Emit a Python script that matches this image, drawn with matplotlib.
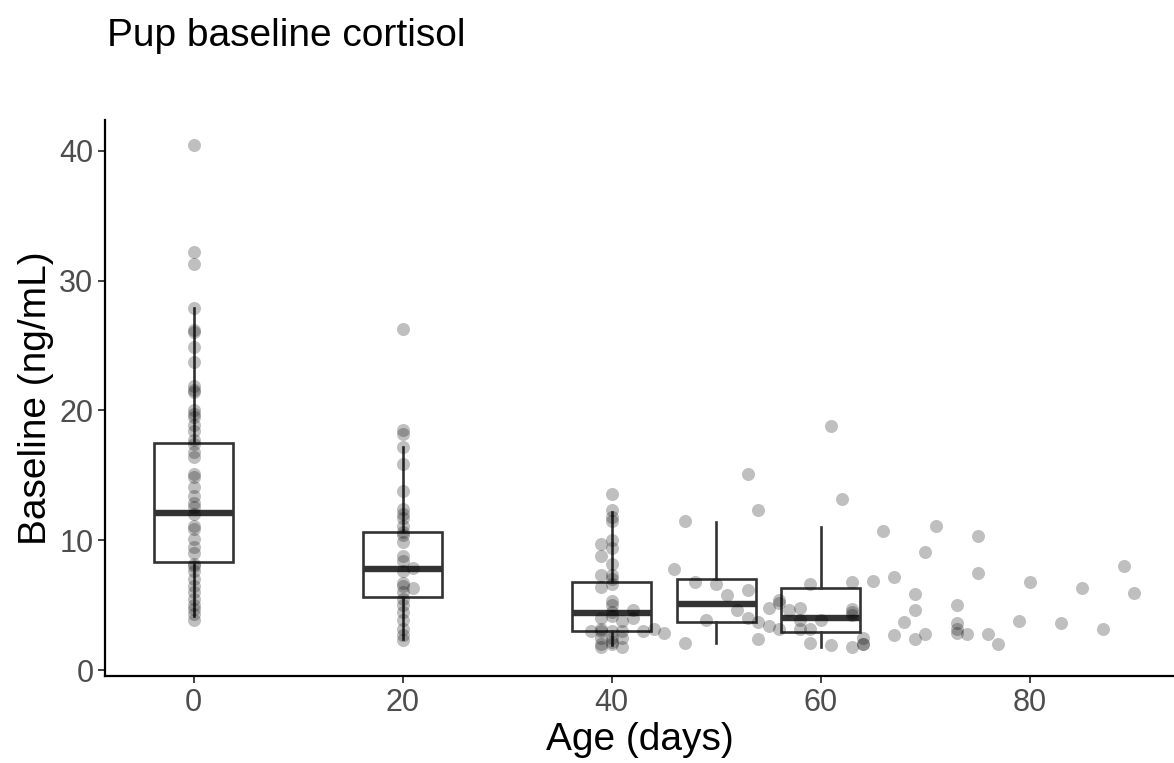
import matplotlib
matplotlib.use("Agg")
import matplotlib.pyplot as plt

plt.rcParams['font.family'] = ['Liberation Sans', 'DejaVu Sans']

# points: age (days) and baseline cortisol (ng/mL)
age0 = [0] * 43
base0 = [40.4, 32.2, 31.3, 27.9, 26.2, 26.0, 24.9, 23.7, 21.9, 21.6, 21.4,
         20.0, 19.7, 19.5, 18.9, 18.4, 17.7, 17.4, 16.8, 16.4, 15.1, 14.9,
         14.1, 13.4, 12.9, 12.6, 12.0, 11.1, 10.9, 10.1, 9.5, 9.0, 8.2,
         8.0, 7.6, 7.0, 6.5, 6.0, 5.5, 5.0, 4.7, 4.3, 3.9]

age20 = [20] * 26 + [21, 21]
base20 = [26.3, 18.5, 18.2, 17.2, 15.9, 13.8, 12.4, 12.0, 11.7, 11.1, 10.6,
          10.4, 9.9, 8.8, 8.4, 7.6, 6.7, 6.5, 6.0, 5.5, 5.0, 4.5, 3.9, 3.2,
          2.7, 2.3, 7.9, 6.3]

age40 = [40, 40, 40, 40, 39, 40, 40, 39, 40, 39, 40, 40, 39, 40, 40, 40, 40,
         40, 42, 42, 39, 38, 39, 39, 40, 41, 41, 43, 44, 45, 39, 40, 40, 41,
         39, 39, 40, 41]
base40 = [13.6, 12.3, 11.8, 11.5, 9.7, 10.0, 9.4, 8.8, 8.2, 7.3, 7.3, 7.0,
          6.4, 6.6, 5.3, 5.0, 4.5, 4.2, 4.6, 4.0, 4.0, 3.0, 3.0, 3.2, 3.0,
          3.0, 3.8, 3.0, 3.2, 2.9, 2.45, 2.45, 2.2, 2.45, 1.8, 2.0, 2.0, 1.8]

age_late = [46, 47, 47, 48, 49, 50, 51, 52, 53, 53, 53, 54, 54, 54, 55, 55,
            56, 56, 56, 57, 58, 58, 58, 59, 59, 59, 60, 61, 61, 62, 63, 63,
            63, 63, 63, 64, 64, 64, 65, 66, 67, 67, 68, 69, 69, 69, 70, 70,
            71, 73, 73, 73, 73, 74, 75, 75, 76, 77, 79, 80, 83, 85, 87, 89, 90]
base_late = [7.8, 11.5, 2.1, 6.8, 3.9, 6.6, 5.8, 4.6, 15.1, 6.15, 4.0, 12.3,
             3.7, 2.4, 4.8, 3.4, 5.4, 5.2, 3.2, 4.6, 4.75, 3.85, 3.2, 6.6, 3.2,
             2.1, 3.85, 18.8, 1.9, 13.2, 6.8, 4.7, 4.5, 4.25, 1.75, 2.5, 2.05,
             2.05, 6.85, 10.7, 7.2, 2.7, 3.7, 5.85, 4.6, 2.4, 9.1, 2.75, 11.1,
             5.05, 3.6, 3.2, 2.9, 2.8, 10.3, 7.5, 2.75, 2.0, 3.8, 6.75, 3.65,
             6.3, 3.2, 8.0, 5.95]

# box summaries per age class
box_pos = [0, 20, 40, 50, 60]
box_lo = [4.2, 2.4, 1.9, 2.1, 1.8]
box_q1 = [8.3, 5.6, 3.0, 3.7, 2.95]
box_med = [12.1, 7.8, 4.4, 5.1, 4.05]
box_q3 = [17.5, 10.6, 6.8, 7.0, 6.35]
box_hi = [27.9, 17.2, 12.2, 11.4, 11.05]

fig = plt.figure(figsize=(11.74, 7.63), dpi=100)
ax = fig.add_axes([0.0894, 0.114, 0.9106, 0.7286])

stats = []
for i in range(len(box_pos)):
    stats.append({'whislo': box_lo[i], 'q1': box_q1[i], 'med': box_med[i],
                  'q3': box_q3[i], 'whishi': box_hi[i]})

ax.bxp(stats, positions=box_pos, widths=7.6, showcaps=False,
       showfliers=False, patch_artist=True, manage_ticks=False,
       boxprops=dict(facecolor='white', edgecolor='#333333', linewidth=1.9),
       whiskerprops=dict(color='#333333', linewidth=1.9),
       medianprops=dict(color='#333333', linewidth=4.6, solid_capstyle='butt'),
       zorder=1)

all_age = age0 + age20 + age40 + age_late
all_base = base0 + base20 + base40 + base_late
ax.scatter(all_age, all_base, s=88, color='black', alpha=0.25,
           linewidths=0, zorder=3)

ax.set_xlim(-8.5, 93.8)
ax.set_ylim(-0.45, 42.35)
ax.set_xticks([0, 20, 40, 60, 80])
ax.set_yticks([0, 10, 20, 30, 40])

for s in ['top', 'right']:
    ax.spines[s].set_visible(False)
for s in ['left', 'bottom']:
    ax.spines[s].set_linewidth(1.6)
    ax.spines[s].set_color('black')

ax.tick_params(axis='both', labelsize=22, labelcolor='#4D4D4D',
               color='#333333', length=4.8, width=1.3, pad=3.5)

ax.set_xlabel('Age (days)', fontsize=28, labelpad=3)
ax.set_ylabel('Baseline (ng/mL)', fontsize=28, labelpad=4)
fig.text(0.091, 0.953, 'Pup baseline cortisol', fontsize=28,
         ha='left', va='center')

fig.savefig('out.png', dpi=100)
